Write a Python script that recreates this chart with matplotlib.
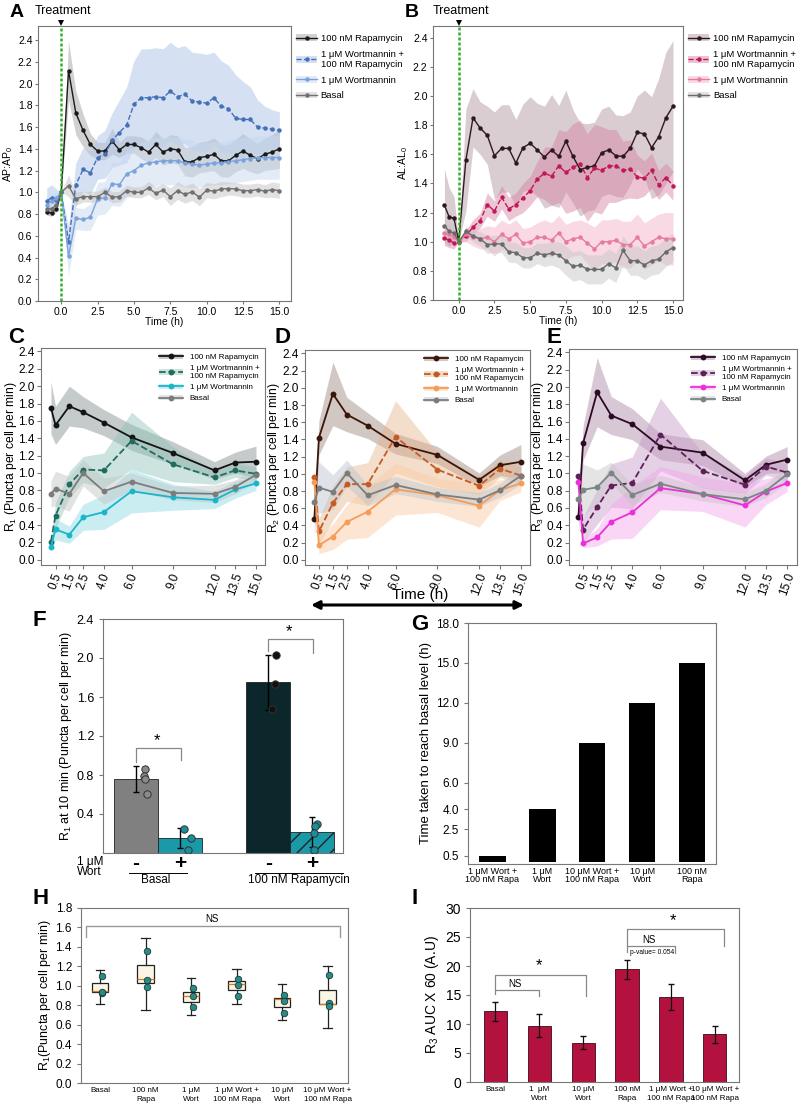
import matplotlib
matplotlib.use("Agg")
import matplotlib.pyplot as plt
from matplotlib.patches import Patch
from matplotlib.lines import Line2D
from matplotlib.legend_handler import HandlerTuple
import numpy as np

plt.rcParams["font.family"] = ["Liberation Sans", "DejaVu Sans"]
plt.rcParams["mathtext.fontset"] = "custom"
plt.rcParams["mathtext.rm"] = "Liberation Sans"
plt.rcParams["mathtext.it"] = "Liberation Sans"

# ---------------- data: panels A and B (normalised to t = 0) ----------------
t_ab = [-1.0, -0.67, -0.33, 0.0, 0.5, 1.0, 1.5, 2.0, 2.5, 3.0, 3.5, 4.0, 4.5, 5.0, 5.5, 6.0,
        6.5, 7.0, 7.5, 8.0, 8.5, 9.0, 9.5, 10.0, 10.5, 11.0, 11.5, 12.0, 12.5, 13.0,
        13.5, 14.0, 14.5, 15.0]

a_rapa = [0.82, 0.81, 0.85, 1.0, 2.12, 1.73, 1.57, 1.44, 1.38, 1.38, 1.47, 1.39, 1.44, 1.44,
          1.41, 1.37, 1.44, 1.37, 1.40, 1.39, 1.28, 1.28, 1.32, 1.33, 1.35, 1.29, 1.29, 1.34,
          1.38, 1.34, 1.31, 1.35, 1.37, 1.40]
a_rapa_sd = [0.03, 0.03, 0.03, 0.0, 0.27, 0.2, 0.15, 0.1, 0.08, 0.08, 0.12, 0.07, 0.08, 0.08,
             0.1, 0.1, 0.12, 0.12, 0.13, 0.13, 0.13, 0.14, 0.14, 0.14, 0.15, 0.15, 0.15, 0.15,
             0.16, 0.15, 0.14, 0.15, 0.16, 0.18]
a_wr = [0.92, 0.95, 0.93, 1.0, 0.54, 1.07, 1.21, 1.18, 1.32, 1.35, 1.48, 1.55, 1.62, 1.81,
        1.87, 1.87, 1.88, 1.87, 1.93, 1.88, 1.90, 1.84, 1.83, 1.82, 1.87, 1.79, 1.77, 1.68,
        1.67, 1.67, 1.60, 1.59, 1.58, 1.57]
a_wr_sd = [0.12, 0.12, 0.1, 0.0, 0.15, 0.2, 0.2, 0.2, 0.2, 0.22, 0.25, 0.3, 0.35, 0.4, 0.45,
           0.45, 0.45, 0.45, 0.45, 0.45, 0.45, 0.45, 0.45, 0.45, 0.42, 0.42, 0.4, 0.4, 0.35,
           0.3, 0.25, 0.2, 0.18, 0.17]
a_w = [0.88, 0.92, 0.95, 1.0, 0.41, 0.76, 0.75, 0.77, 0.94, 0.95, 1.08, 1.07, 1.17, 1.20,
       1.25, 1.27, 1.28, 1.29, 1.29, 1.29, 1.27, 1.26, 1.25, 1.26, 1.27, 1.27, 1.28, 1.29,
       1.30, 1.31, 1.32, 1.32, 1.32, 1.32]
a_w_sd = [0.08, 0.06, 0.05, 0.0, 0.18, 0.1, 0.1, 0.12, 0.15, 0.15, 0.2, 0.2, 0.22, 0.22,
          0.22, 0.22, 0.22, 0.22, 0.22, 0.22, 0.22, 0.22, 0.2, 0.2, 0.2, 0.2, 0.2, 0.2, 0.2,
          0.2, 0.2, 0.2, 0.2, 0.2]
a_basal = [0.85, 0.85, 0.88, 1.0, 1.06, 0.94, 0.96, 0.96, 0.96, 1.0, 0.955, 0.96, 1.015, 1.0,
           1.0, 1.04, 0.99, 1.02, 0.96, 1.015, 0.98, 1.005, 0.955, 1.02, 1.01, 1.03, 1.035,
           1.03, 1.015, 1.015, 1.025, 1.01, 1.025, 1.015]
a_basal_sd = [0.03, 0.03, 0.03, 0.0, 0.1, 0.06, 0.05, 0.05, 0.05, 0.05, 0.05, 0.05, 0.05,
              0.05, 0.05, 0.06, 0.06, 0.06, 0.08, 0.08, 0.08, 0.08, 0.08, 0.07, 0.07, 0.07,
              0.06, 0.06, 0.06, 0.06, 0.06, 0.06, 0.07, 0.07]

b_rapa = [1.25, 1.17, 1.16, 1.0, 1.56, 1.85, 1.78, 1.73, 1.59, 1.64, 1.64, 1.54, 1.645, 1.675,
          1.63, 1.58, 1.63, 1.585, 1.69, 1.585, 1.495, 1.51, 1.52, 1.61, 1.63, 1.59, 1.585,
          1.64, 1.75, 1.74, 1.645, 1.72, 1.85, 1.93]
b_rapa_sd = [0.25, 0.2, 0.15, 0.0, 0.35, 0.2, 0.18, 0.2, 0.3, 0.3, 0.3, 0.3, 0.3, 0.32, 0.32,
             0.35, 0.38, 0.35, 0.35, 0.32, 0.32, 0.3, 0.3, 0.3, 0.3, 0.28, 0.28, 0.25, 0.25,
             0.3, 0.35, 0.4, 0.45, 0.45]
b_wr = [1.025, 1.01, 0.99, 1.0, 1.04, 1.10, 1.145, 1.255, 1.21, 1.305, 1.225, 1.255, 1.30,
        1.35, 1.43, 1.47, 1.45, 1.52, 1.475, 1.51, 1.535, 1.44, 1.505, 1.49, 1.52, 1.52, 1.49,
        1.50, 1.445, 1.435, 1.49, 1.39, 1.44, 1.385]
b_wr_sd = [0.05, 0.05, 0.04, 0.0, 0.04, 0.05, 0.05, 0.08, 0.07, 0.08, 0.08, 0.08, 0.1, 0.1,
           0.12, 0.18, 0.2, 0.25, 0.28, 0.3, 0.3, 0.3, 0.3, 0.3, 0.25, 0.25, 0.2, 0.2, 0.15,
           0.12, 0.12, 0.1, 0.1, 0.1]
b_w = [1.06, 1.05, 1.03, 1.0, 1.05, 1.03, 1.02, 1.03, 1.0, 1.05, 1.02, 1.05, 0.99, 1.0, 1.03,
       1.03, 1.01, 1.06, 1.0, 1.02, 1.03, 0.99, 0.95, 1.0, 1.0, 1.01, 0.98, 0.98, 1.03, 0.97,
       1.0, 1.03, 1.02, 1.02]
b_w_sd = [0.08, 0.06, 0.04, 0.0, 0.05, 0.06, 0.07, 0.08, 0.1, 0.1, 0.1, 0.1, 0.1, 0.1, 0.1,
          0.12, 0.12, 0.12, 0.12, 0.12, 0.12, 0.14, 0.15, 0.15, 0.15, 0.15, 0.16, 0.16, 0.16,
          0.16, 0.16, 0.16, 0.18, 0.18]
b_basal = [1.11, 1.07, 1.06, 1.0, 1.07, 1.04, 1.02, 0.98, 0.985, 0.985, 0.93, 0.925, 0.89,
           0.89, 0.92, 0.91, 0.92, 0.91, 0.87, 0.83, 0.84, 0.81, 0.81, 0.81, 0.85, 0.82, 0.94,
           0.87, 0.87, 0.84, 0.87, 0.88, 0.93, 0.96]
b_basal_sd = [0.1, 0.08, 0.05, 0.0, 0.03, 0.04, 0.05, 0.06, 0.06, 0.06, 0.07, 0.07, 0.07,
              0.07, 0.07, 0.08, 0.08, 0.09, 0.1, 0.1, 0.1, 0.1, 0.1, 0.1, 0.1, 0.1, 0.1, 0.1,
              0.1, 0.1, 0.1, 0.1, 0.1, 0.1]

# ---------------- data: panels C, D, E (rates) ----------------
t_rate = [0.17, 0.5, 1.5, 2.5, 4.0, 6.0, 9.0, 12.0, 13.5, 15.0]
rate_ticks = [0.5, 1.5, 2.5, 4.0, 6.0, 9.0, 12.0, 13.5, 15.0]

c_rapa = [1.75, 1.55, 1.77, 1.70, 1.58, 1.41, 1.23, 1.03, 1.12, 1.13]
c_rapa_sd = [0.3, 0.22, 0.23, 0.18, 0.15, 0.15, 0.13, 0.1, 0.12, 0.18]
c_wr = [0.21, 0.51, 0.87, 1.04, 1.03, 1.37, 1.10, 0.95, 1.03, 0.99]
c_wr_sd = [0.05, 0.15, 0.15, 0.15, 0.2, 0.33, 0.2, 0.08, 0.08, 0.08]
c_w = [0.15, 0.35, 0.29, 0.49, 0.55, 0.79, 0.72, 0.69, 0.81, 0.88]
c_w_sd = [0.05, 0.12, 0.1, 0.15, 0.2, 0.25, 0.15, 0.1, 0.1, 0.08]
c_basal = [0.76, 0.82, 0.76, 1.00, 0.79, 0.90, 0.77, 0.76, 0.84, 0.98]
c_basal_sd = [0.15, 0.2, 0.2, 0.15, 0.15, 0.1, 0.08, 0.1, 0.08, 0.08]

d_rapa = [0.47, 1.42, 1.93, 1.69, 1.56, 1.35, 1.22, 0.93, 1.10, 1.14]
d_rapa_sd = [0.2, 0.2, 0.37, 0.2, 0.15, 0.12, 0.1, 0.08, 0.12, 0.2]
d_wr = [0.96, 0.33, 0.66, 0.88, 0.88, 1.43, 1.05, 0.86, 1.06, 0.98]
d_wr_sd = [0.1, 0.15, 0.2, 0.2, 0.25, 0.42, 0.2, 0.1, 0.1, 0.1]
d_w = [0.91, 0.17, 0.27, 0.44, 0.56, 0.82, 0.75, 0.63, 0.81, 0.89]
d_w_sd = [0.08, 0.1, 0.15, 0.2, 0.3, 0.3, 0.2, 0.25, 0.12, 0.1]
d_basal = [0.67, 0.84, 0.79, 1.01, 0.75, 0.87, 0.76, 0.70, 0.81, 0.98]
d_basal_sd = [0.25, 0.3, 0.2, 0.15, 0.12, 0.1, 0.08, 0.08, 0.08, 0.1]

e_rapa = [0.50, 1.35, 1.94, 1.67, 1.57, 1.31, 1.24, 0.92, 1.10, 1.16]
e_rapa_sd = [0.2, 0.2, 0.4, 0.22, 0.18, 0.15, 0.15, 0.08, 0.1, 0.15]
e_wr = [0.97, 0.35, 0.61, 0.86, 0.89, 1.45, 1.03, 0.87, 1.08, 1.01]
e_wr_sd = [0.1, 0.15, 0.2, 0.25, 0.3, 0.42, 0.2, 0.1, 0.1, 0.1]
e_w = [0.90, 0.19, 0.26, 0.44, 0.55, 0.83, 0.76, 0.63, 0.79, 0.89]
e_w_sd = [0.08, 0.05, 0.1, 0.2, 0.3, 0.25, 0.2, 0.25, 0.15, 0.1]
e_basal = [0.70, 0.81, 0.84, 1.01, 0.75, 0.88, 0.76, 0.70, 0.80, 0.99]
e_basal_sd = [0.25, 0.3, 0.2, 0.12, 0.12, 0.1, 0.08, 0.08, 0.08, 0.1]

# ---------------- data: panel F ----------------
f_pos = [0, 1, 3, 4]
f_mean = [0.76, 0.155, 1.75, 0.215]
f_err = [0.135, 0.105, 0.28, 0.15]
f_pts = [[0.865, 0.79, 0.754, 0.607], [0.244, 0.154, 0.03], [2.03, 1.735, 1.48],
         [0.30, 0.28, 0.21, 0.03]]
f_jit = [[0.21, 0.18, 0.2, 0.26], [0.08, 0.24, 0.18], [0.18, 0.16, 0.08], [0.11, 0.07, 0.05, 0.05]]

# ---------------- data: panel G ----------------
g_labels = ["1 μM Wort +\n100 nM Rapa", "1 μM\nWort", "10 μM Wort +\n100 nM Rapa",
            "10 μM\nWort", "100 nM\nRapa"]
g_vals = [0.5, 4.0, 9.0, 12.0, 15.0]
g_ticks = [0.5, 2.5, 4.0, 6.0, 9.0, 12.0, 15.0, 18.0]

# ---------------- data: panel H ----------------
h_labels = ["Basal", "100 nM\nRapa", "1 μM\nWort", "1 μM Wort +\n100 nM Rapa",
            "10 μM\nWort", "10 μM Wort +\n100 nM Rapa"]
h_med = [0.95, 1.07, 0.90, 1.015, 0.86, 0.815]
h_q1 = [0.935, 1.03, 0.835, 0.953, 0.78, 0.81]
h_q3 = [1.03, 1.21, 0.935, 1.045, 0.875, 0.96]
h_lo = [0.81, 0.75, 0.70, 0.815, 0.645, 0.565]
h_hi = [1.16, 1.49, 1.08, 1.175, 1.015, 1.20]
h_pts = [[1.10, 0.93, 0.94], [1.36, 1.06, 0.99], [0.98, 0.89, 0.78],
         [1.07, 1.005, 0.895], [0.91, 0.84, 0.72], [1.11, 0.82, 0.79]]

# ---------------- data: panel I ----------------
i_labels = ["Basal", "1  μM\nWort", "10 μM\nWort", "100 nM\nRapa",
            "1 μM Wort +\n100 nM Rapa", "10 μM Wort +\n100 nM Rapa"]
i_vals = [12.2, 9.7, 6.8, 19.4, 14.7, 8.2]
i_err = [1.6, 2.0, 1.1, 1.6, 2.2, 1.4]

leg_names = ["100 nM Rapamycin", "1 μM Wortmannin +\n100 nM Rapamycin", "1 μM Wortmannin", "Basal"]

fig = plt.figure(figsize=(8, 11.07), dpi=100)
W, H = 800, 1107


def px_axes(l, t, r, b):
    return fig.add_axes([l / W, 1 - b / H, (r - l) / W, (b - t) / H])


def frame(ax, col="#777777"):
    for s in ax.spines.values():
        s.set_color(col)
        s.set_linewidth(0.8)


def series(ax, t, y, sd, color, band, ls, ms, lw, alpha):
    y = np.array(y)
    sd = np.array(sd)
    ax.fill_between(t, y - sd, y + sd, color=band, alpha=alpha, lw=0)
    ax.plot(t, y, color=color, ls=ls, marker="o", ms=ms, lw=lw)
    return (Patch(facecolor=band, alpha=alpha), Line2D([], [], color=color, ls=ls, marker="o", ms=ms, lw=lw))


# ---------------- A and B ----------------
ab_cfg = [
    ("A", (38, 26, 291, 301), (0.0, 2.53), np.arange(0.0, 2.41, 0.2), "AP:AP$_0$", (-1.6, 15.8),
     [(a_rapa, a_rapa_sd, "#1a1a1a", "#9a9a9a", "-", 0.45),
      (a_wr, a_wr_sd, "#4470b8", "#b3c8ea", "--", 0.55),
      (a_w, a_w_sd, "#7aa3dc", "#c9d9f0", "-", 0.5),
      (a_basal, a_basal_sd, "#707070", "#c4c4c4", "-", 0.5)]),
    ("B", (433, 26, 683, 300), (0.6, 2.48), np.arange(0.6, 2.41, 0.2), "AL:AL$_0$", (-1.8, 15.7),
     [(b_rapa, b_rapa_sd, "#2e1820", "#b79ca7", "-", 0.5),
      (b_wr, b_wr_sd, "#c2185b", "#d47f9f", "--", 0.45),
      (b_w, b_w_sd, "#e77aa0", "#f4b6cb", "-", 0.5),
      (b_basal, b_basal_sd, "#6a6a6a", "#c8c8c8", "-", 0.5)]),
]

for letter, box, ylim, yt, ylab, xlim, sers in ab_cfg:
    ax = px_axes(*box)
    handles = []
    for y, sd, c, band, ls, al in sers:
        handles.append(series(ax, t_ab, y, sd, c, band, ls, 2.2, 1.0, al))
    ax.axvline(0, color="#33b02a", ls=(0, (1.2, 0.8)), lw=1.8)
    ax.set_xlim(*xlim)
    ax.set_ylim(*ylim)
    ax.set_yticks(np.round(yt, 1))
    ax.set_xticks([0, 2.5, 5, 7.5, 10, 12.5, 15])
    ax.tick_params(labelsize=7.5, length=2.5, color="#777777", pad=1.5)
    ax.set_xlabel("Time (h)", fontsize=7.5, labelpad=0)
    ax.set_ylabel(ylab, fontsize=7.5, labelpad=2)
    frame(ax)
    ax.plot([0], [ylim[1] + (ylim[1] - ylim[0]) * 0.012], marker="v", ms=5, color="black",
            clip_on=False, mew=0)
    ax.text(0.15, ylim[1] + (ylim[1] - ylim[0]) * 0.033, "Treatment", fontsize=9, ha="center",
            va="bottom")
    ax.legend(handles, leg_names, loc="upper left", bbox_to_anchor=(1.0, 0.99), frameon=False,
              fontsize=6.8, handlelength=2.2, handletextpad=0.4, labelspacing=0.7,
              borderaxespad=0.15, handler_map={tuple: HandlerTuple(ndivide=1)})
    fig.text((box[0] - 28) / W, 1 - 4 / H, letter, fontsize=14, fontweight="bold", va="top")

# ---------------- C, D, E ----------------
cde_cfg = [
    ("C", (41, 348, 265, 565), "R$_1$ (Puncta per cell per min)", (-0.55, 15.65),
     [(c_rapa, c_rapa_sd, "#141414", "#7f8c8c", "-", 0.45),
      (c_wr, c_wr_sd, "#1f6d60", "#8fc3b8", "--", 0.45),
      (c_w, c_w_sd, "#19b6c9", "#8ad9e4", "-", 0.45),
      (c_basal, c_basal_sd, "#7c7c7c", "#bfc4c4", "-", 0.45)]),
    ("D", (305, 350, 530, 565), "R$_2$ (Puncta per cell per min)", (-0.5, 15.65),
     [(d_rapa, d_rapa_sd, "#3a150a", "#a69288", "-", 0.5),
      (d_wr, d_wr_sd, "#c75a20", "#e6b48c", "--", 0.45),
      (d_w, d_w_sd, "#f59c58", "#fbcfa8", "-", 0.5),
      (d_basal, d_basal_sd, "#7c7c7c", "#b9c3cf", "-", 0.45)]),
    ("E", (569, 349, 797, 565), "R$_3$ (Puncta per cell per min)", (-0.5, 15.7),
     [(e_rapa, e_rapa_sd, "#2c0a25", "#b293ad", "-", 0.5),
      (e_wr, e_wr_sd, "#5e2058", "#c79bc6", "--", 0.45),
      (e_w, e_w_sd, "#ec2fd6", "#f2a3ec", "-", 0.45),
      (e_basal, e_basal_sd, "#7a8585", "#c4c4c4", "-", 0.45)]),
]

letter_x = {"C": 8, "D": 274, "E": 547}
for letter, box, ylab, xlim, sers in cde_cfg:
    ax = px_axes(*box)
    handles = []
    for y, sd, c, band, ls, al in sers:
        handles.append(series(ax, t_rate, y, sd, c, band, ls, 3.2, 1.3, al))
    ax.set_xlim(*xlim)
    ax.set_ylim(-0.06, 2.44)
    ax.set_yticks(np.round(np.arange(0, 2.41, 0.2), 1))
    ax.set_xticks(rate_ticks)
    ax.set_xticklabels([f"{v:.1f}" for v in rate_ticks], rotation=70)
    ax.tick_params(labelsize=8.5, length=3, color="#777777", pad=1.5)
    ax.set_ylabel(ylab, fontsize=8.7, labelpad=0)
    ax.yaxis.set_label_coords(-0.1, 0.5)
    frame(ax)
    ax.legend(handles, leg_names, loc="upper right", frameon=False, fontsize=5.8,
              handlelength=3.0, labelspacing=0.45, borderaxespad=0.3,
              handler_map={tuple: HandlerTuple(ndivide=1)})
    fig.text(letter_x[letter] / W, 1 - 327 / H, letter, fontsize=16, fontweight="bold", va="top")

fig.text(420 / W, 1 - 595 / H, "Time (h)", fontsize=11, ha="center", va="center")
fig.add_artist(plt.Annotation("", xy=(524 / W, 1 - 605 / H), xytext=(311 / W, 1 - 605 / H),
                              xycoords="figure fraction", textcoords="figure fraction",
                              arrowprops=dict(arrowstyle="<|-|>", lw=2.2, color="black",
                                              mutation_scale=12, shrinkA=0, shrinkB=0)))

# ---------------- F ----------------
axf = px_axes(103, 619, 343, 853)
f_colors = ["#808080", "#1a9aa9", "#0b272b", "#1a9aa9"]
f_dot = ["#8a8a8a", "#1a8f9c", "#111111", "#1a8f9c"]
bars = axf.bar(f_pos, f_mean, width=1.0, color=f_colors, edgecolor="#222222", lw=0.6)
bars[3].set_hatch("//")
axf.errorbar(f_pos, f_mean, yerr=f_err, fmt="none", ecolor="black", elinewidth=1, capsize=2.5)
for p, pts, jit, dc in zip(f_pos, f_pts, f_jit, f_dot):
    axf.scatter([p + j for j in jit], pts, s=28, color=dc, edgecolor="#333333", lw=0.7, zorder=3)
axf.set_xlim(-0.75, 4.7)
axf.set_ylim(0, 2.4)
axf.set_yticks([0.4, 0.8, 1.2, 1.6, 2.0, 2.4])
axf.set_xticks([])
axf.tick_params(labelsize=9, length=3, color="#777777")
axf.set_ylabel("R$_1$ at 10 min (Puncta per cell per min)", fontsize=9, labelpad=2)
frame(axf)
for x0, x1, yb, yl, yr in [(0, 1.03, 1.08, 0.93, 0.95), (3, 4.03, 2.19, 2.07, 2.05)]:
    axf.plot([x0, x0, x1, x1], [yl, yb, yb, yr], color="#888888", lw=0.9)
    axf.text((x0 + x1) / 2 - 0.05, yb + 0.0, "*", fontsize=12, ha="center", va="bottom")
xt = axf.get_xaxis_transform()
for p, sgn in zip(f_pos, ["-", "+", "-", "+"]):
    axf.text(p, -0.045, sgn, transform=xt, fontsize=15, fontweight="bold", ha="center", va="center")
axf.plot([-0.15, 1.15], [-0.085, -0.085], transform=xt, color="black", lw=0.7, clip_on=False)
axf.plot([2.7, 4.7], [-0.085, -0.085], transform=xt, color="black", lw=0.7, clip_on=False)
axf.text(0.45, -0.115, "Basal", transform=xt, fontsize=8.5, ha="center", va="center")
axf.text(3.7, -0.115, "100 nM Rapamycin", transform=xt, fontsize=8.5, ha="center", va="center")
axf.text(-0.108, -0.06, "1 μM\nWort", transform=axf.transAxes, fontsize=8.5, ha="left",
         va="center", linespacing=0.85)
fig.text(32 / W, 1 - 610 / H, "F", fontsize=16, fontweight="bold", va="top")

# ---------------- G ----------------
axg = px_axes(468, 623, 716, 864)
axg.bar(range(len(g_vals)), g_vals, width=0.53, color="black")
axg.set_xlim(-0.49, 4.48)
axg.set_ylim(-0.12, 18)
axg.set_yticks(g_ticks)
axg.set_yticklabels([f"{v:.1f}" for v in g_ticks])
axg.set_xticks(range(len(g_vals)))
axg.set_xticklabels(g_labels, fontsize=6.5, linespacing=0.9)
axg.tick_params(axis="y", labelsize=8.5, length=3, color="#777777")
axg.tick_params(axis="x", length=0, pad=2)
axg.set_ylabel("Time taken to reach basal level (h)", fontsize=9.5, labelpad=3)
frame(axg)
fig.text(411 / W, 1 - 614 / H, "G", fontsize=16, fontweight="bold", va="top")

# ---------------- H ----------------
axh = px_axes(81, 908, 348, 1083)
stats = [dict(med=m, q1=a, q3=b, whislo=lo, whishi=hi, fliers=[])
         for m, a, b, lo, hi in zip(h_med, h_q1, h_q3, h_lo, h_hi)]
axh.bxp(stats, positions=range(6), widths=0.36, patch_artist=True, showfliers=False,
        boxprops=dict(facecolor="#fbf5e6", edgecolor="#222222", lw=0.9),
        medianprops=dict(color="#e07a10", lw=0.9),
        whiskerprops=dict(color="#222222", lw=0.9), capprops=dict(color="#222222", lw=0.9))
for i, pts in enumerate(h_pts):
    axh.scatter([i + 0.04] * len(pts), pts, s=22, color="#2a8a84", edgecolor="#1a3a3a", lw=0.6, zorder=3)
axh.plot([-0.3, -0.3, 5.27, 5.27], [1.5, 1.61, 1.61, 1.5], color="#999999", lw=1)
axh.text(2.45, 1.635, "NS", fontsize=7, ha="center", va="bottom")
axh.set_xlim(-0.42, 5.45)
axh.set_ylim(0, 1.8)
axh.set_yticks(np.round(np.arange(0, 1.81, 0.2), 1))
axh.set_xticks(range(6))
axh.set_xticklabels(h_labels, fontsize=5.8, linespacing=1.3)
axh.tick_params(axis="y", labelsize=8.5, length=3, color="#777777")
axh.tick_params(axis="x", length=0, pad=3)
axh.set_ylabel("R$_1$(Puncta per cell per min)", fontsize=9, labelpad=2)
frame(axh)
fig.text(32 / W, 1 - 888 / H, "H", fontsize=16, fontweight="bold", va="top")

# ---------------- I ----------------
axi = px_axes(470, 908, 739, 1082)
axi.bar(range(6), i_vals, width=0.53, color="#b4123e", edgecolor="#3a0a14", lw=0.6)
axi.errorbar(range(6), i_vals, yerr=i_err, fmt="none", ecolor="#111111", elinewidth=0.9, capsize=2.5)
for x0, x1, yb, yl, yr, lab, fs in [(0, 1.0, 15.8, 15.1, 14.8, "NS", 7), (0, 2.07, 18.5, 15.8, 14.9, "*", 12),
                                    (3, 4.1, 23.5, 22.5, 22.2, "NS", 7), (3, 5.2, 26.4, 23.5, 23.5, "*", 12)]:
    axi.plot([x0, x0, x1, x1], [yl, yb, yb, yr], color="#888888", lw=0.9)
    axi.text((x0 + x1) / 2 - 0.05, yb + 0.2, lab, fontsize=fs, ha="center", va="bottom")
axi.text(3.57, 22.4, "p-value= 0.054", fontsize=4.8, ha="center", va="center")
axi.set_xlim(-0.58, 5.55)
axi.set_ylim(0, 30)
axi.set_yticks(range(0, 31, 5))
axi.set_xticks(range(6))
axi.set_xticklabels(i_labels, fontsize=5.8, linespacing=1.3)
axi.tick_params(axis="y", labelsize=10, length=3, color="#777777")
axi.tick_params(axis="x", length=0, pad=3)
axi.set_ylabel("R$_3$ AUC X 60 (A.U)", fontsize=10, labelpad=3)
frame(axi)
fig.text(411 / W, 1 - 888 / H, "I", fontsize=16, fontweight="bold", va="top")

fig.savefig("out.png", dpi=100)
